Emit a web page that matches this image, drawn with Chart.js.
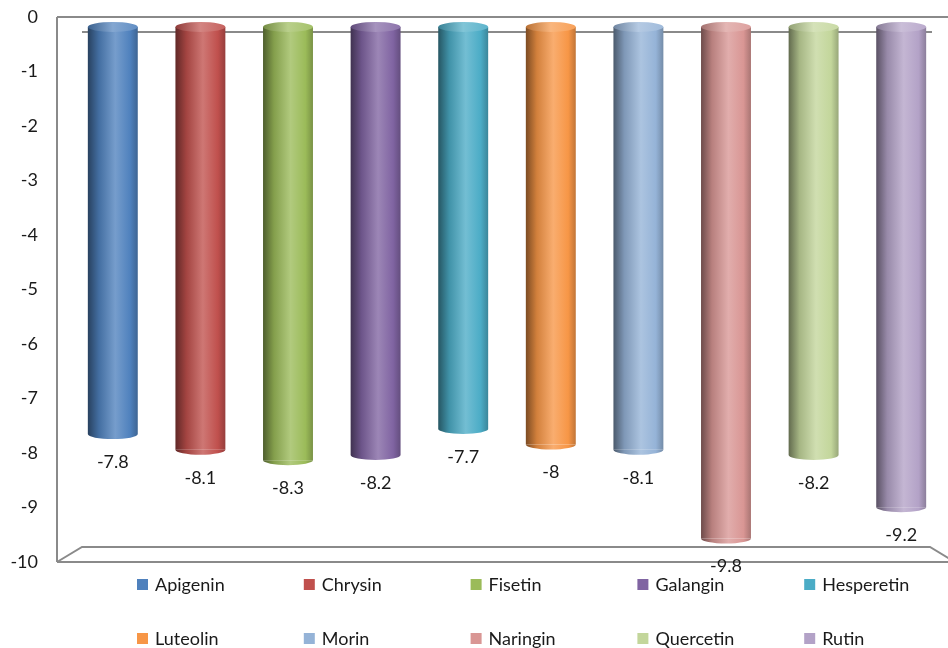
<!DOCTYPE html>
<html>
<head>
<meta charset="utf-8">
<script src="https://cdn.jsdelivr.net/npm/chart.js@4.4.1/dist/chart.umd.min.js"></script>
<style>
  html, body { margin: 0; padding: 0; background: #ffffff; }
  canvas { display: block; }
</style>
</head>
<body>
<canvas id="chart" width="948" height="648"></canvas>
<script>
// Docking scores (kcal/mol) of the flavonoids
const compounds = ['Apigenin', 'Chrysin', 'Fisetin', 'Galangin', 'Hesperetin',
                   'Luteolin', 'Morin', 'Naringin', 'Quercetin', 'Rutin'];
const scores = [-7.8, -8.1, -8.3, -8.2, -7.7, -8, -8.1, -9.8, -8.2, -9.2];
const seriesColors = ['#4F81BD', '#C0504D', '#9BBB59', '#8064A2', '#4BACC6',
                      '#F79646', '#95B3D7', '#D99694', '#C3D69B', '#B3A2C7'];
const axisMin = -10;
const axisMax = 0;

const BAR_FRACTION = 0.57;
const CAP_RY = 5;
const FONT = '"Lato", "Liberation Sans", sans-serif';

function hexToRgb(h) {
  const n = parseInt(h.slice(1), 16);
  return [(n >> 16) & 255, (n >> 8) & 255, n & 255];
}
function shade(h, f) {   // f < 1 darkens
  const c = hexToRgb(h).map(v => Math.round(Math.min(255, v * f)));
  return `rgb(${c[0]},${c[1]},${c[2]})`;
}
function tint(h, t) {    // mix with white
  const c = hexToRgb(h).map(v => Math.round(v + (255 - v) * t));
  return `rgb(${c[0]},${c[1]},${c[2]})`;
}

function barHalfWidth(chart) {
  const xs = chart.scales.x;
  return xs.width / compounds.length * BAR_FRACTION / 2;
}

function cylinderGradient(chart, i) {
  const ctx = chart.ctx;
  const xc = chart.scales.x.getPixelForValue(i);
  const hw = barHalfWidth(chart);
  const base = seriesColors[i];
  const g = ctx.createLinearGradient(xc - hw, 0, xc + hw, 0);
  g.addColorStop(0, shade(base, 0.5));
  g.addColorStop(0.22, shade(base, 0.85));
  g.addColorStop(0.55, tint(base, 0.22));
  g.addColorStop(0.85, base);
  g.addColorStop(1, shade(base, 0.78));
  return g;
}

// Box, back wall gridline and floor of the 3-D plot area
const framePlugin = {
  id: 'frame',
  beforeDatasetsDraw(chart) {
    const { ctx, chartArea: a, scales } = chart;
    const yTop = scales.y.getPixelForValue(axisMax);
    const yBot = scales.y.getPixelForValue(axisMin);
    const fl = a.left - 12, dx = 25, dy = 15;
    const backRight = a.right - 15;
    ctx.save();
    ctx.strokeStyle = '#8a8a8a';
    ctx.lineWidth = 2;
    ctx.beginPath();
    ctx.moveTo(fl, yTop); ctx.lineTo(chart.width, yTop);
    ctx.moveTo(fl, yTop); ctx.lineTo(fl, yBot);
    ctx.moveTo(fl, yBot); ctx.lineTo(chart.width, yBot);
    ctx.moveTo(fl, yBot); ctx.lineTo(fl + dx, yBot - dy);
    ctx.lineTo(backRight, yBot - dy);
    ctx.lineTo(backRight + dx, yBot);
    ctx.moveTo(fl + dx, yTop + dy); ctx.lineTo(backRight + 2, yTop + dy);
    ctx.stroke();
    ctx.restore();
  }
};

// Rounded ends of the cylinders and the value labels beneath them
const cylinderPlugin = {
  id: 'cylinders',
  afterDatasetsDraw(chart) {
    const ctx = chart.ctx;
    const meta = chart.getDatasetMeta(0);
    const hw = barHalfWidth(chart);
    ctx.save();
    meta.data.forEach((bar, i) => {
      const x = bar.x, top = bar.base, bottom = bar.y;
      const base = seriesColors[i];
      // bottom curve
      ctx.beginPath();
      ctx.ellipse(x, bottom, hw, CAP_RY, 0, 0, Math.PI);
      ctx.fillStyle = cylinderGradient(chart, i);
      ctx.fill();
      // top cap
      const cg = ctx.createLinearGradient(x - hw, 0, x + hw, 0);
      cg.addColorStop(0, shade(base, 0.75));
      cg.addColorStop(0.5, tint(base, 0.3));
      cg.addColorStop(1, tint(base, 0.1));
      ctx.beginPath();
      ctx.ellipse(x, top, hw, CAP_RY, 0, 0, Math.PI * 2);
      ctx.fillStyle = cg;
      ctx.fill();
      // value label
      ctx.fillStyle = '#1a1a1a';
      ctx.font = `18px ${FONT}`;
      ctx.textAlign = 'center';
      ctx.textBaseline = 'middle';
      ctx.fillText(String(scores[i]), x, bottom + CAP_RY + 23);
    });
    ctx.restore();
  }
};

// Five-column legend beneath the floor
const legendPlugin = {
  id: 'gridLegend',
  afterDraw(chart) {
    const ctx = chart.ctx;
    const colW = 166.8, x0 = 137, y0 = 584, rowH = 54;
    ctx.save();
    ctx.font = `18px ${FONT}`;
    ctx.textBaseline = 'middle';
    ctx.textAlign = 'left';
    compounds.forEach((name, i) => {
      const x = x0 + (i % 5) * colW;
      const y = y0 + Math.floor(i / 5) * rowH;
      ctx.fillStyle = seriesColors[i];
      ctx.fillRect(x, y - 5, 11, 11);
      ctx.fillStyle = '#1a1a1a';
      ctx.fillText(name, x + 18, y + 1);
    });
    ctx.restore();
  }
};

new Chart(document.getElementById('chart'), {
  type: 'bar',
  data: {
    labels: compounds,
    datasets: [{
      label: 'Docking score',
      data: scores,
      yAxisID: 'yBar',
      backgroundColor: (c) => c.chart.chartArea ? cylinderGradient(c.chart, c.dataIndex) : seriesColors[c.dataIndex],
      borderWidth: 0,
      barPercentage: BAR_FRACTION,
      categoryPercentage: 1
    }]
  },
  options: {
    responsive: false,
    devicePixelRatio: 1,
    animation: false,
    layout: { padding: { left: 0, right: 3, top: 17, bottom: 86 } },
    plugins: { legend: { display: false }, tooltip: { enabled: false } },
    scales: {
      x: { display: false },
      y: {
        position: 'left',
        min: axisMin,
        max: axisMax,
        afterFit(s) {
          s.width = 69;
          s.paddingTop = 0;
          s.paddingBottom = 0;
        },
        grid: { display: false, drawTicks: false },
        border: { display: false },
        ticks: {
          stepSize: 1,
          padding: 31,
          color: '#1a1a1a',
          font: { family: FONT, size: 18 }
        }
      },
      // cylinders sit a little in front of the back wall, so their scale is offset
      yBar: {
        display: false,
        min: -10.25,
        max: 0.19
      }
    }
  },
  plugins: [framePlugin, cylinderPlugin, legendPlugin]
});
</script>
</body>
</html>
